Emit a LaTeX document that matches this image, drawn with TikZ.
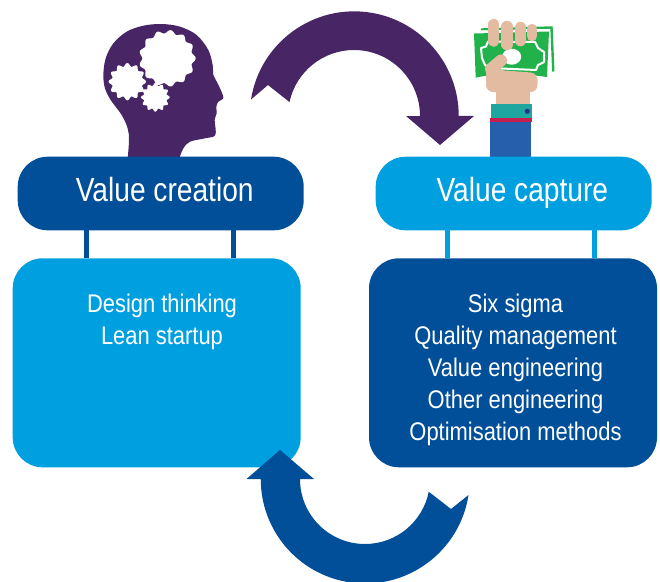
\documentclass[tikz,border=0pt]{standalone}
\usepackage{fontspec}
\setmainfont[FakeStretch=0.84]{Liberation Sans}
\newfontfamily\bodyfont[FakeStretch=0.86]{Liberation Sans}
\definecolor{dkblue}{HTML}{004F98}
\definecolor{ltblue}{HTML}{009FDF}
\definecolor{purp}{HTML}{482666}
\definecolor{cash}{HTML}{22B24C}
\definecolor{skin}{HTML}{E3BBA0}
\definecolor{cuff}{HTML}{1FA6A0}
\definecolor{band}{HTML}{C51F4F}
\definecolor{sleeve}{HTML}{2660AD}
\definecolor{btn}{HTML}{27338B}
\tikzset{
  box/.style={inner sep=0pt,outer sep=0pt,rounded corners=30pt},
  titlebox/.style={box,minimum height=73.6pt},
  bodybox/.style={box,minimum width=288pt,minimum height=209pt},
  link/.style={line width=5pt},
  title/.style={text=white,anchor=base,inner sep=0pt,font=\fontsize{33.5}{36}\selectfont},
  bodytext/.style={text=white,anchor=north,inner sep=0pt,align=center,font=\bodyfont\fontsize{25.5}{32}\selectfont},
  finger/.style={skin,line width=11.5pt,line cap=round},
}
\newcommand{\gearshape}[5]{% cx cy R a n
  \fill[white] plot[domain=0:360,samples=181,smooth] ({#1+(#3+#4*cos(#5*\x))*cos(\x)},{#2+(#3+#4*cos(#5*\x))*sin(\x)}) -- cycle;}
\begin{document}
\begin{tikzpicture}[x=1pt,y=1pt,yscale=-1]
\useasboundingbox (0,0) rectangle (660,581);
\clip (0,0) rectangle (660,581);

% head
\begin{scope}[shift={(90,0)},scale=1/3]
\fill[purp] plot[smooth,tension=0.55] coordinates {(113,475) (117,420) (113,385) (95,345) (62,300) (45,265) (40,225) (47,175) (70,130) (110,95) (160,77) (215,72) (270,80) (320,105) (355,150) (368,195) (370,225) (383,250) (400,292) (385,305) (379,320) (380,340) (374,360) (376,405) (345,415) (300,425) (280,445) (268,475)} -- cycle;
\gearshape{232}{175}{80}{5}{13}
\gearshape{112}{245}{51}{5}{12}
\gearshape{196}{292}{39}{4}{12}
\end{scope}

% money and hand
\draw[cash,line width=2.4pt] (481,29.5) -- (551.5,27.5) -- (553.3,71.5);
\fill[white] (478,30.5) -- (549,29) -- (551,75) -- (478,75) -- cycle;
\fill[cash] (474,33.5) -- (549,31.5) -- (547,77) .. controls (525,74) and (500,72) .. (475.7,77.7) -- cycle;
\draw[white,line width=2pt,line join=round] (481,48) -- (486,46.5) -- (488,41.5) -- (535,42) -- (538,48) -- (544,52) -- (544,62) -- (538,65) -- (536,70) -- (490,68) -- (485,65) -- (482,58) -- cycle;
\fill[white] (511.7,56.7) ellipse [x radius=9.5,y radius=8];
\fill[skin,rounded corners=7pt] (486,64) -- (486,92) -- (537.5,92) -- (537.5,73) -- (498,70) -- cycle;
\fill[skin] (496,88) rectangle (530,104);
\draw[skin,line width=12pt,line cap=round] (491,69) -- (501,60.5);
\draw[finger] (493.7,24.5) -- (493.7,41);
\draw[finger] (507,26.5) -- (507,44.5);
\draw[finger] (520.5,27.5) -- (520.5,40.5);
\draw[finger,line width=10.5pt] (532,29) -- (532,36);
\fill[cuff] (490.5,103.5) rectangle (531.5,118);
\fill[band] (490,118) rectangle (531.5,121.5);
\fill[sleeve] (490,121.5) rectangle (531,158);
\fill[btn] (527.3,111.3) circle (2.6);

% connector anchors
\coordinate (c1) at (86.8,0);
\coordinate (c2) at (233.7,0);
\coordinate (c3) at (447.7,0);
\coordinate (c4) at (594.7,0);

% boxes
\node[titlebox,fill=dkblue,minimum width=286pt] (vc) at (160.7,193.5) {};
\node[titlebox,fill=ltblue,minimum width=276pt] (vp) at (513.7,193.5) {};
\node[bodybox,fill=ltblue] (dt) at (156.7,362.8) {};
\node[bodybox,fill=dkblue] (sx) at (513,362.8) {};
\draw[link,dkblue] (vc.south -| c1) -- (dt.north -| c1);
\draw[link,dkblue] (vc.south -| c2) -- (dt.north -| c2);
\draw[link,ltblue] (vp.south -| c3) -- (sx.north -| c3);
\draw[link,ltblue] (vp.south -| c4) -- (sx.north -| c4);

% texts
\node[title] (tvc) at (164.7,201) {Value creation};
\node[title] (tvp) at (522.3,201) {Value capture};
\node[bodytext] (ldt) at (162,294) {Design thinking\\Lean startup};
\node[bodytext] (lsx) at (515.5,294) {Six sigma\\Quality management\\Value engineering\\Other engineering\\Optimisation methods};

% upper arrow
\fill[purp] (251,99.5) arc[start angle=-171,end angle=0,radius=104.5] -- (474,116) -- (440,145) -- (406,116) -- (420,116) arc[start angle=0,end angle=-167.8,radius=66] -- (268,85) -- cycle;
% lower arrow
\fill[dkblue] (468.5,495) arc[start angle=8.8,end angle=180,radius=104.5] -- (246.5,479) -- (280,450) -- (314,479) -- (300,479) arc[start angle=180,end angle=11.3,radius=65] -- (451,509) -- cycle;
\end{tikzpicture}
\end{document}
